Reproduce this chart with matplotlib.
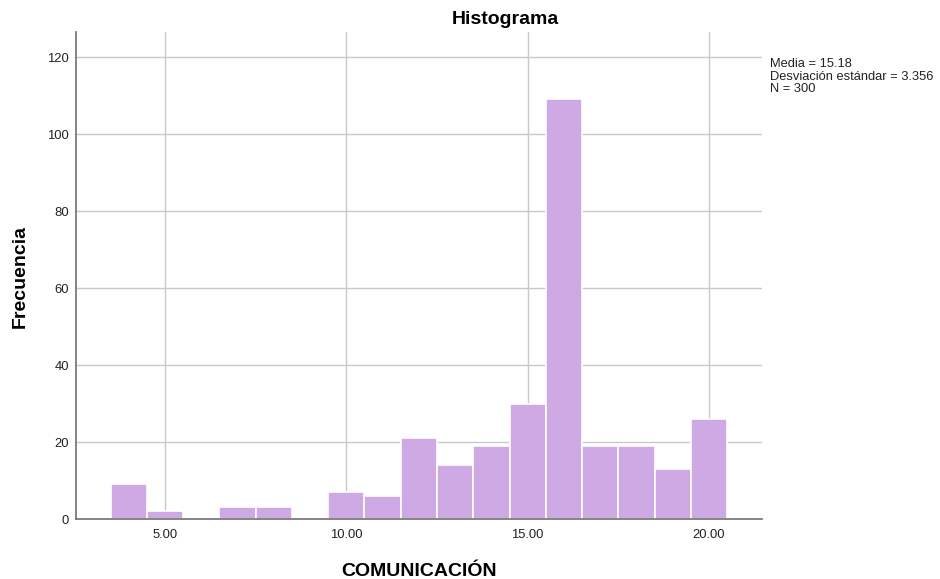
import matplotlib.pyplot as plt
import numpy as np

plt.rcParams['font.family'] = ['Liberation Sans', 'DejaVu Sans']

# Histogram data (bin centres and counts)
valores = [4, 5, 6, 7, 8, 9, 10, 11, 12, 13, 14, 15, 16, 17, 18, 19, 20]
frecuencias = [9, 2, 0, 3, 3, 0, 7, 6, 21, 14, 19, 30, 109, 19, 19, 13, 26]
x_ticks = [5, 10, 15, 20]
y_ticks = [0, 20, 40, 60, 80, 100, 120]
stats_text = "Media = 15.18\nDesviación estándar = 3.356\nN = 300"

fig = plt.figure(figsize=(9.4, 5.79), dpi=100)
ax = fig.add_axes([0.0809, 0.1036, 0.7297, 0.8411])

ax.bar(valores, frecuencias, width=1.0, color='#cea9e3', edgecolor='white',
       linewidth=1.2, zorder=3)

ax.set_xlim(2.55, 21.46)
ax.set_ylim(0, 126.5)
ax.set_xticks(x_ticks)
ax.set_xticklabels([f"{v:.2f}" for v in x_ticks], fontsize=9.4, color='#222222')
ax.set_yticks(y_ticks)
ax.set_yticklabels(y_ticks, fontsize=9.4, color='#222222')
ax.tick_params(axis='x', length=0, pad=7)
ax.tick_params(axis='y', length=0, pad=5)

ax.grid(True, color='#c8c8c8', linewidth=1, zorder=0)

for side in ['top', 'right']:
    ax.spines[side].set_visible(False)
for side in ['left', 'bottom']:
    ax.spines[side].set_color('#707070')
    ax.spines[side].set_linewidth(1.2)
    ax.spines[side].set_zorder(5)

# titles placed like the SPSS output
fig.text(505 / 940, 1 - 24 / 579, "Histograma", fontsize=14, fontweight='bold',
         ha='center', va='baseline')
fig.text(419 / 940, 1 - 576 / 579, "COMUNICACIÓN", fontsize=14, fontweight='bold',
         ha='center', va='baseline')
fig.text(20 / 940, 1 - 277 / 579, "Frecuencia", fontsize=14, fontweight='bold',
         ha='center', va='center', rotation=90)

fig.text(770 / 940, 1 - 58 / 579, stats_text, fontsize=9.3, va='top', ha='left',
         linespacing=1.06, color='#222222')

plt.savefig("out.png", dpi=100)
